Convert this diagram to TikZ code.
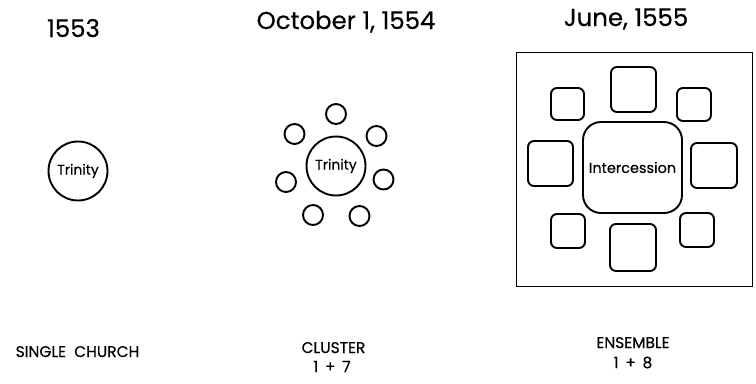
\documentclass[tikz,border=0pt]{standalone}
\usepackage{fontspec}
\setmainfont{Poppins}[FakeBold=0.4]
\begin{document}
\begin{tikzpicture}[x=1bp,y=-1bp,
  ink/.style={line width=1.9bp, draw=black},
  bigcirc/.style={ink, circle, inner sep=0pt, minimum size=59bp,
    font=\fontsize{14}{16}\selectfont},
  smallcirc/.style={ink, circle, inner sep=0pt, minimum size=20bp},
  chapel/.style={ink, rectangle, rounded corners=6bp, inner sep=0pt},
  nave/.style={ink, rectangle, rounded corners=18bp, inner sep=0pt,
    font=\fontsize{14.5}{16}\selectfont},
  wall/.style={line width=1.6bp, draw=black, rectangle, inner sep=0pt},
  datelabel/.style={anchor=base, inner sep=0pt, font=\fontsize{24.5}{27}\selectfont},
  caption/.style={anchor=base, inner sep=0pt, font=\fontsize{15.5}{17}\selectfont},
]
\useasboundingbox (0,0) rectangle (756,383);

% dates
\node[datelabel] (d1) at (73.5,37) {1553};
\node[datelabel] (d2) at (346,29) {October 1, 1554};
\node[datelabel] (d3) at (626,26) {June, 1555};

% single church
\node[bigcirc] (t1) at (78,171) {Trinity};

% cluster: Trinity with seven chapels
\node[bigcirc] (t2) at (336,166) {Trinity};
\node[smallcirc] (c1) at (336,114) {};
\node[smallcirc] (c2) at (294.5,134) {};
\node[smallcirc] (c3) at (376.5,136) {};
\node[smallcirc] (c4) at (286,182) {};
\node[smallcirc] (c5) at (383.5,179.5) {};
\node[smallcirc] (c6) at (313,215) {};
\node[smallcirc] (c7) at (359.5,216) {};

% ensemble: Intercession with eight chapels inside a square
\node[wall, minimum width=236bp, minimum height=234bp] (w) at (634.5,169.5) {};
\node[nave, minimum width=99bp, minimum height=91bp] (n) at (632.5,167.5) {Intercession};
\node[chapel, minimum width=45bp, minimum height=45bp] (b1) at (633.5,89.5) {};
\node[chapel, minimum width=33bp, minimum height=32bp] (b2) at (567.5,104) {};
\node[chapel, minimum width=34bp, minimum height=33bp] (b3) at (694,104.5) {};
\node[chapel, minimum width=45bp, minimum height=45bp] (b4) at (550.5,163.5) {};
\node[chapel, minimum width=46bp, minimum height=45bp] (b5) at (714,165.5) {};
\node[chapel, minimum width=34bp, minimum height=34bp] (b6) at (568,231) {};
\node[chapel, minimum width=46bp, minimum height=47bp] (b7) at (633,247.5) {};
\node[chapel, minimum width=34bp, minimum height=34bp] (b8) at (697,230) {};

% captions
\node[caption] (s1) at (77.5,357) {SINGLE\ \ CHURCH};
\node[caption] (s2) at (333.5,353) {CLUSTER};
\node[caption] (s2n) at (332,372) {1\ \,+\ \,7};
\node[caption] (s3) at (633,348) {ENSEMBLE};
\node[caption] (s3n) at (633,368) {1\ \,+\ \,8};
\end{tikzpicture}
\end{document}
